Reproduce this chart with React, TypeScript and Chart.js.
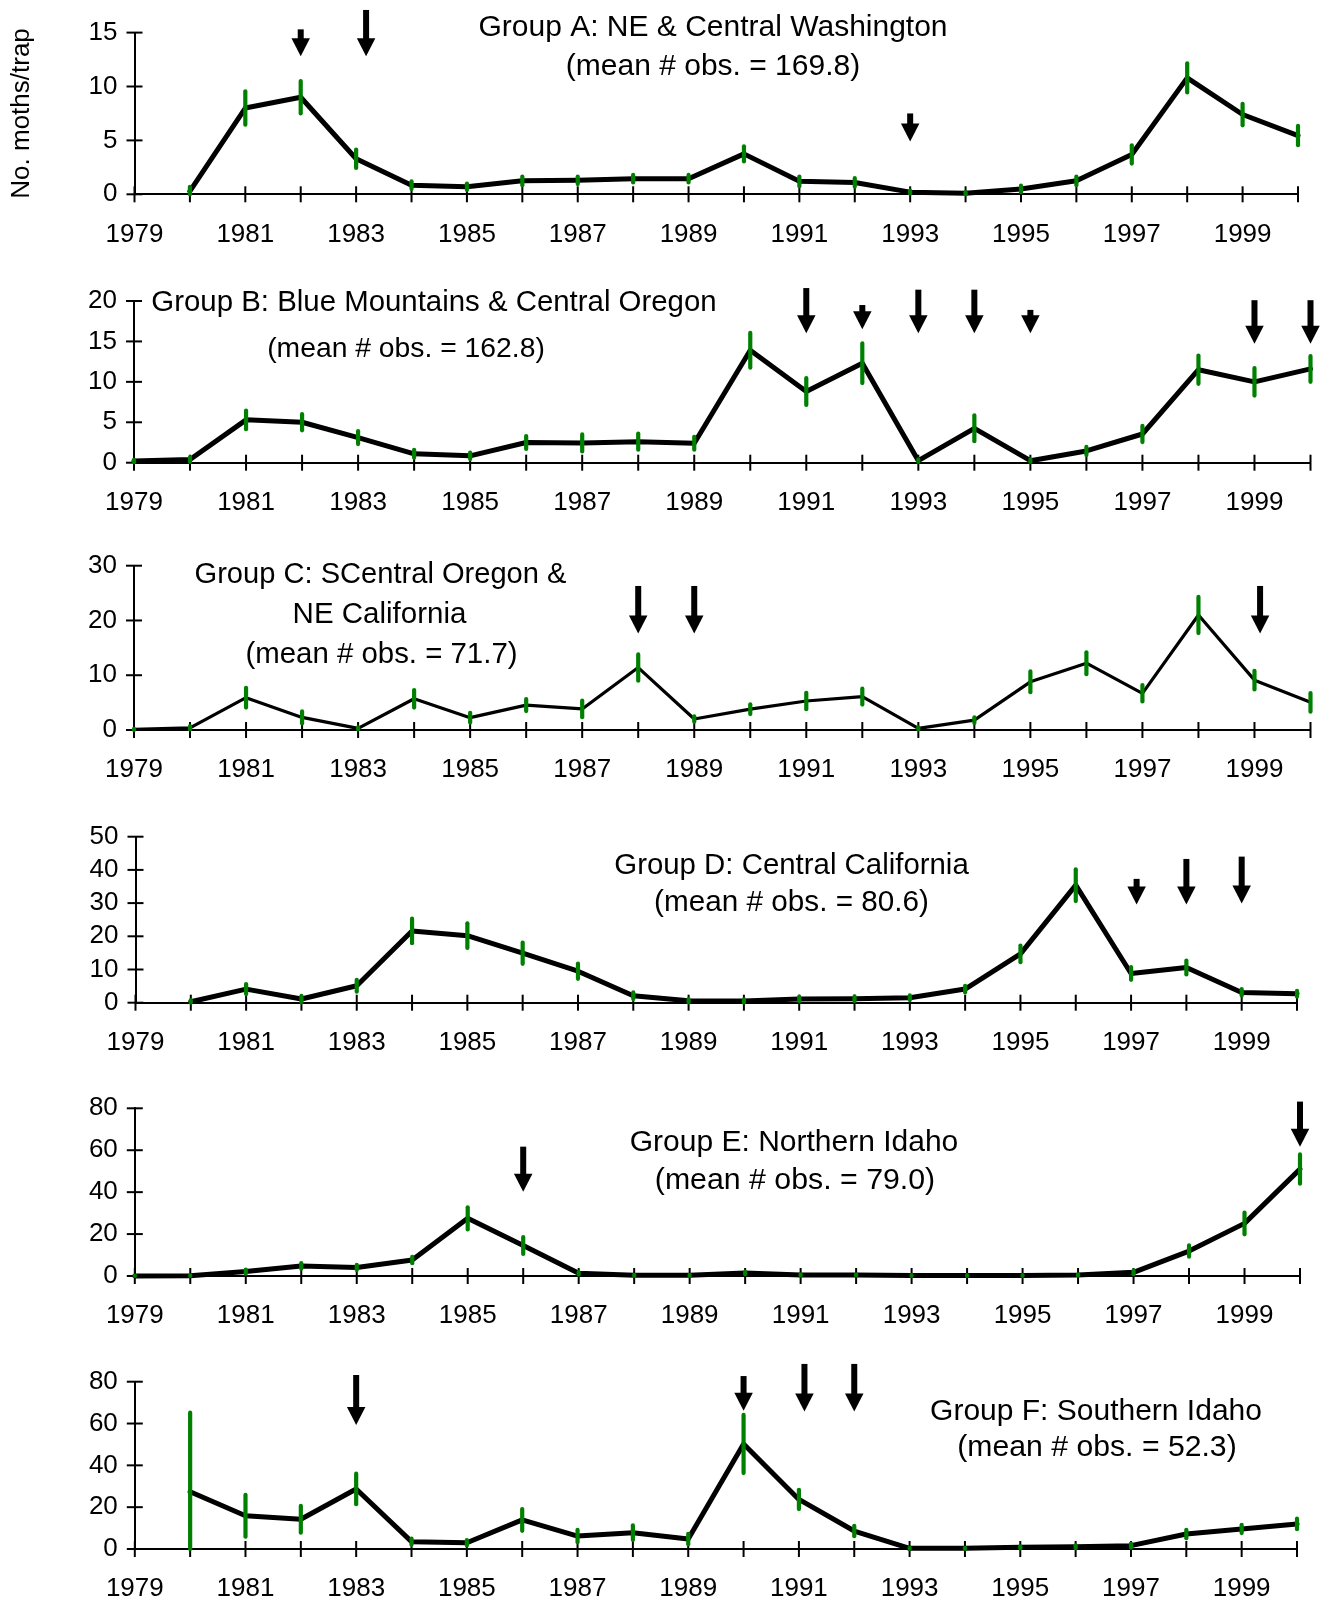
import React, { useEffect, useRef } from "react";
import { Chart, registerables } from "chart.js";

Chart.register(...registerables);

const FONT = "'Liberation Sans', Arial, Helvetica, sans-serif";

// ---------- shared axis data ----------
const years = [1979, 1980, 1981, 1982, 1983, 1984, 1985, 1986, 1987, 1988, 1989, 1990, 1991, 1992, 1993, 1994, 1995, 1996, 1997, 1998, 1999, 2000];
const xTickLabels = ["1979", "1981", "1983", "1985", "1987", "1989", "1991", "1993", "1995", "1997", "1999"];

// ---------- Group A ----------
const aValues = [null, 0.3, 8.0, 9.0, 3.3, 0.85, 0.7, 1.25, 1.3, 1.45, 1.45, 3.75, 1.2, 1.1, 0.2, 0.1, 0.5, 1.25, 3.7, 10.8, 7.4, 5.45];
const aErrors = [null, 0.4, 1.55, 1.5, 0.85, 0.35, 0.3, 0.4, 0.35, 0.35, 0.35, 0.7, 0.45, 0.4, 0.15, 0.1, 0.3, 0.4, 0.85, 1.35, 1.0, 0.9];
const aArrowYears = [1982, 1983.18, 1993];
const aArrowTops = [15.3, 17.1, 7.5];
const aArrowTips = [12.8, 12.8, 4.9];
const aTitle = ["Group A: NE & Central Washington", "(mean # obs. = 169.8)"];
const aYTicks = [0, 5, 10, 15];

// ---------- Group B ----------
const bValues = [0.2, 0.4, 5.3, 5.0, 3.1, 1.1, 0.85, 2.5, 2.45, 2.6, 2.4, 13.9, 8.8, 12.3, 0.25, 4.25, 0.25, 1.45, 3.55, 11.5, 10.0, 11.6];
const bErrors = [0.15, 0.3, 1.15, 1.0, 0.8, 0.5, 0.4, 0.8, 1.05, 1.0, 0.8, 2.15, 1.65, 2.45, 0.15, 1.6, 0.15, 0.5, 1.0, 1.75, 1.7, 1.6];
const bArrowYears = [1991, 1992, 1993, 1994, 1995, 1999, 2000];
const bArrowTops = [21.6, 19.5, 21.4, 21.4, 18.9, 20.1, 20.1];
const bArrowTips = [16.0, 16.5, 16.0, 16.0, 16.0, 14.7, 14.7];
const bTitle = ["Group B: Blue Mountains & Central Oregon", "(mean # obs. = 162.8)"];
const bYTicks = [0, 5, 10, 15, 20];

// ---------- Group C ----------
const cValues = [0.1, 0.4, 5.9, 2.3, 0.3, 5.7, 2.25, 4.55, 3.85, 11.4, 2.0, 3.8, 5.3, 6.1, 0.3, 1.8, 8.8, 12.2, 6.7, 21.0, 9.1, 5.05];
const cErrors = [0.1, 0.3, 1.8, 1.1, 0.2, 1.6, 0.9, 1.1, 1.5, 2.4, 0.5, 0.9, 1.5, 1.45, 0.2, 0.5, 1.9, 2.0, 1.5, 3.3, 1.7, 1.7];
const cArrowYears = [1988, 1989, 1999.1];
const cArrowTops = [26.3, 26.3, 26.3];
const cArrowTips = [17.6, 17.6, 17.6];
const cTitle = ["Group C: SCentral Oregon &", "NE California", "(mean # obs. = 71.7)"];
const cYTicks = [0, 10, 20, 30];

// ---------- Group D ----------
const dValues = [null, 0.3, 4.1, 1.1, 5.1, 21.6, 20.2, 14.9, 9.5, 2.1, 0.6, 0.5, 1.1, 1.2, 1.5, 4.1, 14.7, 35.4, 8.8, 10.6, 3.1, 2.7];
const dErrors = [null, 0.5, 1.5, 1.0, 1.8, 3.7, 3.7, 3.2, 2.3, 1.0, 0.5, 0.5, 0.7, 0.7, 0.7, 1.0, 2.5, 4.8, 1.9, 2.1, 1.0, 0.9];
const dArrowYears = [1997.1, 1998, 1999];
const dArrowTops = [37.3, 43.3, 44.0];
const dArrowTips = [29.6, 29.6, 29.9];
const dTitle = ["Group D: Central California", "(mean # obs. = 80.6)"];
const dYTicks = [0, 10, 20, 30, 40, 50];

// ---------- Group E ----------
const eValues = [0, 0.1, 2.1, 4.8, 4.1, 7.6, 27.5, 14.5, 1.3, 0.3, 0.3, 1.4, 0.5, 0.5, 0.2, 0.2, 0.2, 0.5, 1.75, 11.9, 25.1, 51.0];
const eErrors = [0.2, 0.2, 1.0, 1.3, 1.2, 1.5, 5.3, 4.0, 0.6, 0.3, 0.3, 0.6, 0.3, 0.3, 0.2, 0.2, 0.2, 0.3, 0.9, 2.7, 5.2, 7.0];
const eArrowYears = [1986, 2000];
const eArrowTops = [61.7, 83.2];
const eArrowTips = [40.2, 61.7];
const eTitle = ["Group E: Northern Idaho", "(mean # obs. = 79.0)"];
const eYTicks = [0, 20, 40, 60, 80];

// ---------- Group F ----------
const fValues = [null, 27.4, 15.9, 14.2, 28.7, 3.5, 3.0, 13.9, 6.2, 7.8, 4.8, 50.2, 23.7, 8.6, 0.3, 0.3, 0.8, 1.1, 1.6, 7.2, 9.6, 12.0];
const fErrors = [null, 37.8, 10.0, 6.4, 7.3, 1.5, 1.3, 5.2, 3.0, 3.5, 2.5, 13.9, 4.6, 2.5, 0.2, 0.3, 0.5, 0.7, 1.0, 2.0, 2.0, 2.5];
const fArrowYears = [1983, 1990, 1991.1, 1992];
const fArrowTops = [83.2, 82.7, 88.5, 88.5];
const fArrowTips = [59.3, 66.1, 65.7, 65.7];
const fTitle = ["Group F: Southern Idaho", "(mean # obs. = 52.3)"];
const fYTicks = [0, 20, 40, 60, 80];

// ---------- layout (page pixels) ----------
type Layout = {
  canvasTop: number; canvasHeight: number;
  left: number; right: number; top: number; bottom: number;
  titlePos: number[][]; titleSizes: number[]; lineWidth: number;
};
type Panel = {
  id: string; values: (number | null)[]; errors: (number | null)[];
  arrowYears: number[]; arrowTops: number[]; arrowTips: number[];
  title: string[]; yTicks: number[]; yTitle?: string; layout: Layout;
};

const panels: Panel[] = [
  { id: "A", values: aValues, errors: aErrors, arrowYears: aArrowYears, arrowTops: aArrowTops, arrowTips: aArrowTips, title: aTitle, yTicks: aYTicks, yTitle: "No. moths/trap",
    layout: { canvasTop: 0, canvasHeight: 262, left: 134.5, right: 1298, top: 29.3, bottom: 194.3, titlePos: [[713, 28], [713, 67]], titleSizes: [30, 30], lineWidth: 5 } },
  { id: "B", values: bValues, errors: bErrors, arrowYears: bArrowYears, arrowTops: bArrowTops, arrowTips: bArrowTips, title: bTitle, yTicks: bYTicks,
    layout: { canvasTop: 262, canvasHeight: 268, left: 134, right: 1310.5, top: 301, bottom: 462.7, titlePos: [[434, 303], [406, 349]], titleSizes: [29.4, 28.3], lineWidth: 5 } },
  { id: "C", values: cValues, errors: cErrors, arrowYears: cArrowYears, arrowTops: cArrowTops, arrowTips: cArrowTips, title: cTitle, yTicks: cYTicks,
    layout: { canvasTop: 530, canvasHeight: 270, left: 134, right: 1310.5, top: 565.7, bottom: 730, titlePos: [[380.5, 575], [379.5, 615], [381.5, 655]], titleSizes: [29.1, 29.5, 29.4], lineWidth: 3.2 } },
  { id: "D", values: dValues, errors: dErrors, arrowYears: dArrowYears, arrowTops: dArrowTops, arrowTips: dArrowTips, title: dTitle, yTicks: dYTicks,
    layout: { canvasTop: 800, canvasHeight: 265, left: 135.5, right: 1297, top: 836.7, bottom: 1002.7, titlePos: [[791.5, 866], [791.5, 903]], titleSizes: [29.4, 29.7], lineWidth: 5 } },
  { id: "E", values: eValues, errors: eErrors, arrowYears: eArrowYears, arrowTops: eArrowTops, arrowTips: eArrowTips, title: eTitle, yTicks: eYTicks,
    layout: { canvasTop: 1065, canvasHeight: 270, left: 134.8, right: 1300, top: 1108.3, bottom: 1276, titlePos: [[794, 1143], [795, 1181]], titleSizes: [30, 30.3], lineWidth: 5 } },
  { id: "F", values: fValues, errors: fErrors, arrowYears: fArrowYears, arrowTops: fArrowTops, arrowTips: fArrowTips, title: fTitle, yTicks: fYTicks,
    layout: { canvasTop: 1335, canvasHeight: 267, left: 134.8, right: 1297, top: 1381.7, bottom: 1549, titlePos: [[1096, 1411.5], [1097, 1447.5]], titleSizes: [30, 30.2], lineWidth: 5 } },
];

function decorPlugin(panel: Panel) {
  return {
    id: "decor" + panel.id,
    afterDraw(chart: any) {
      const { ctx, chartArea } = chart;
      const xs = chart.scales.x;
      const ys = chart.scales.y;
      const L = panel.layout;
      ctx.save();
      // crossing tick marks
      ctx.strokeStyle = "#000";
      ctx.lineWidth = 2;
      ctx.lineCap = "butt";
      years.forEach((v) => {
        const px = xs.getPixelForValue(v);
        ctx.beginPath();
        ctx.moveTo(px, chartArea.bottom - 8);
        ctx.lineTo(px, chartArea.bottom + 8);
        ctx.stroke();
      });
      panel.yTicks.forEach((v) => {
        const py = ys.getPixelForValue(v);
        ctx.beginPath();
        ctx.moveTo(chartArea.left - 8, py);
        ctx.lineTo(chartArea.left + 8, py);
        ctx.stroke();
      });
      // error bars
      ctx.strokeStyle = "#008000";
      ctx.lineWidth = 4.2;
      ctx.lineCap = "round";
      years.forEach((yr, i) => {
        const v = panel.values[i];
        const e = panel.errors[i];
        if (v === null || e === null) return;
        const px = xs.getPixelForValue(yr);
        const y1 = ys.getPixelForValue(v + e);
        const y2 = ys.getPixelForValue(Math.max(0, v - e));
        ctx.beginPath();
        ctx.moveTo(px, y1);
        ctx.lineTo(px, y2);
        ctx.stroke();
      });
      // arrows
      ctx.fillStyle = "#000";
      const headH = 18, headW = 18.5, shaftW = 6;
      panel.arrowYears.forEach((yr, i) => {
        const px = xs.getPixelForValue(yr);
        const top = ys.getPixelForValue(panel.arrowTops[i]);
        const tip = ys.getPixelForValue(panel.arrowTips[i]);
        const headTop = tip - headH;
        if (headTop > top) ctx.fillRect(px - shaftW / 2, top, shaftW, headTop - top + 1);
        ctx.beginPath();
        ctx.moveTo(px - headW / 2, headTop);
        ctx.lineTo(px + headW / 2, headTop);
        ctx.lineTo(px, tip);
        ctx.closePath();
        ctx.fill();
      });
      // titles
      ctx.textAlign = "center";
      ctx.textBaseline = "middle";
      ctx.fillStyle = "#000";
      panel.title.forEach((t, i) => {
        const [tx, ty] = L.titlePos[i];
        ctx.font = `${L.titleSizes[i]}px ${FONT}`;
        ctx.fillText(t, tx, ty - L.canvasTop);
      });
      ctx.restore();
    },
  };
}

function PanelChart({ panel }: { panel: Panel }) {
  const ref = useRef<HTMLCanvasElement | null>(null);
  const L = panel.layout;
  useEffect(() => {
    if (!ref.current) return;
    const yMax = panel.yTicks[panel.yTicks.length - 1];
    const chart = new Chart(ref.current, {
      type: "line",
      data: {
        datasets: [
          {
            data: years.map((yr, i) => ({ x: yr, y: panel.values[i] })) as any,
            borderColor: "#000",
            borderWidth: L.lineWidth,
            pointRadius: 0,
            tension: 0,
            borderJoinStyle: "round",
            borderCapStyle: "round",
            spanGaps: false,
            clip: false as any,
          },
        ],
      },
      options: {
        responsive: false,
        animation: false,
        events: [],
        layout: { padding: { left: 0, right: 1324 - L.right, top: L.top - L.canvasTop, bottom: 0 } },
        plugins: { legend: { display: false }, tooltip: { enabled: false }, title: { display: false } },
        scales: {
          x: {
            type: "linear",
            min: 1979,
            max: 2000,
            grid: { display: false, drawTicks: false },
            border: { display: true, color: "#000", width: 2 },
            afterBuildTicks: (s: any) => { s.ticks = years.map((v) => ({ value: v })); },
            afterFit: (s: any) => { s.height = L.canvasTop + L.canvasHeight - L.bottom; s.paddingRight = 0; },
            ticks: {
              autoSkip: false,
              maxRotation: 0,
              minRotation: 0,
              padding: 4,
              color: "#000",
              font: { family: FONT, size: 26, lineHeight: 2.78 },
              callback: (v: any) => (xTickLabels.includes(String(v)) ? String(v) : ""),
            },
          },
          y: {
            type: "linear",
            min: 0,
            max: yMax,
            grid: { display: false, drawTicks: false },
            border: { display: true, color: "#000", width: 2 },
            afterBuildTicks: (s: any) => { s.ticks = panel.yTicks.map((v) => ({ value: v })); },
            afterFit: (s: any) => { s.width = L.left; },
            ticks: {
              autoSkip: false,
              padding: 17,
              color: "#000",
              font: { family: FONT, size: 26 },
              callback: (v: any) => String(v),
            },
            title: panel.yTitle
              ? { display: true, text: panel.yTitle, color: "#000", font: { family: FONT, size: 26 }, padding: { top: 6, bottom: 0 } }
              : { display: false },
          },
        },
      } as any,
      plugins: [decorPlugin(panel)],
    });
    return () => chart.destroy();
  }, []);
  return (
    <canvas
      ref={ref}
      width={1324}
      height={L.canvasHeight}
      style={{ position: "absolute", left: 0, top: L.canvasTop, width: 1324, height: L.canvasHeight, display: "block" }}
    />
  );
}

export default function App() {
  return (
    <div style={{ position: "absolute", left: 0, top: 0, width: 1324, height: 1602, background: "#fff" }}>
      {panels.map((p) => (
        <PanelChart key={p.id} panel={p} />
      ))}
    </div>
  );
}
